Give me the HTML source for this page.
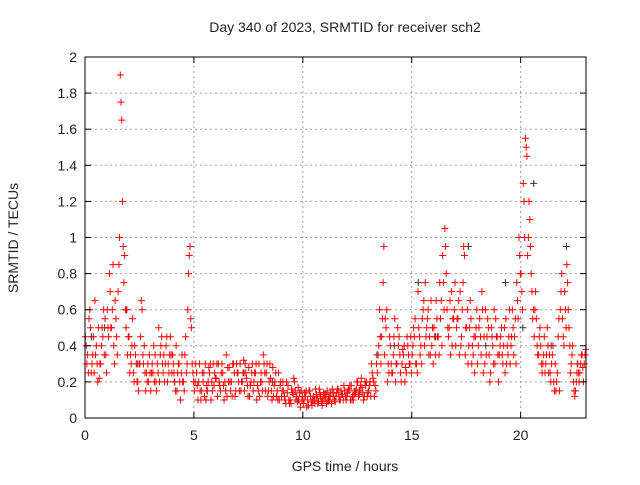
<!DOCTYPE html>
<html><head><meta charset="utf-8"><style>
body{margin:0;background:#fff}
svg text{font-family:"Liberation Sans",sans-serif;font-size:14px;fill:#222}
</style></head><body>
<svg id="chart" width="640" height="480" viewBox="0 0 640 480" xmlns="http://www.w3.org/2000/svg">
<rect width="640" height="480" fill="#fff"/>
<text x="345" y="32" text-anchor="middle">Day 340 of 2023, SRMTID for receiver sch2</text>
<text transform="translate(18,238) rotate(-90)" text-anchor="middle">SRMTID / TECUs</text>
<text x="345" y="471" text-anchor="middle">GPS time / hours</text>
<g id="grid"></g>
<g id="pts"></g>
<rect x="85" y="57" width="501" height="361" fill="none" stroke="#000" stroke-width="1"/>
<g id="ticks"></g>
</svg>
<script>
const xTicks=[0,5,10,15,20];
const yTicks=[0,0.2,0.4,0.6,0.8,1,1.2,1.4,1.6,1.8,2];
const yTickLabels=["0","0.2","0.4","0.6","0.8","1","1.2","1.4","1.6","1.8","2"];
const seriesA=[0.45,0.35,0.6,0.3,0.25,0.4,0.5,0.3,0.45,0.55,
0.6,0.8,0.5,0.4,0.55,0.7,1.9,1.2,0.9,0.6,
0.45,0.3,0.25,0.35,0.2,0.3,0.6,0.4,0.25,0.2,
0.15,0.25,0.35,0.3,0.2,0.45,0.35,0.4,0.3,0.45,
0.35,0.2,0.15,0.3,0.25,0.2,0.45,0.6,0.95,0.3,
0.15,0.25,0.2,0.1,0.2,0.3,0.15,0.25,0.2,0.18,
0.22,0.3,0.15,0.25,0.2,0.12,0.28,0.2,0.3,0.15,
0.25,0.3,0.2,0.15,0.22,0.28,0.2,0.15,0.25,0.18,
0.12,0.2,0.3,0.25,0.15,0.22,0.28,0.2,0.15,0.1,
0.12,0.15,0.08,0.18,0.1,0.14,0.2,0.12,0.1,0.15,
0.08,0.12,0.1,0.15,0.07,0.1,0.13,0.09,0.12,0.1,
0.11,0.15,0.1,0.08,0.14,0.12,0.16,0.1,0.13,0.15,
0.12,0.15,0.18,0.1,0.14,0.2,0.15,0.17,0.12,0.2,
0.15,0.12,0.22,0.18,0.25,0.6,0.45,0.95,0.5,0.3,
0.4,0.25,0.55,0.3,0.45,0.2,0.35,0.28,0.4,0.3,
0.35,0.45,0.3,0.5,0.4,0.6,0.75,0.55,0.45,0.4,
0.5,0.65,0.45,0.55,0.9,1.05,0.6,0.5,0.7,0.55,
0.4,0.55,0.7,0.6,0.9,0.5,0.4,0.55,0.35,0.45,
0.3,0.55,0.7,0.45,0.35,0.5,0.25,0.4,0.3,0.45,
0.35,0.5,0.4,0.55,0.35,0.3,0.6,0.45,0.75,1.0,
0.8,1.3,1.55,0.9,1.1,0.7,0.45,0.55,0.35,0.4,
0.3,0.25,0.5,0.35,0.3,0.2,0.15,0.45,0.6,0.55,
0.7,0.85,0.5,0.3,0.2,0.15,0.3,0.25,0.35,0.3];
const seriesB=[0.3,0.55,0.25,0.45,0.35,0.2,0.3,0.5,0.35,0.25,
0.45,0.5,0.85,0.65,0.35,1.0,1.65,0.75,0.5,0.45,
0.35,0.55,0.4,0.2,0.3,0.65,0.3,0.15,0.3,0.25,
0.3,0.2,0.15,0.5,0.4,0.25,0.3,0.2,0.35,0.25,
0.25,0.4,0.3,0.1,0.2,0.35,0.3,0.9,0.5,0.2,
0.3,0.1,0.15,0.25,0.12,0.18,0.28,0.1,0.3,0.22,
0.12,0.18,0.3,0.1,0.35,0.2,0.15,0.3,0.12,0.25,
0.15,0.2,0.32,0.25,0.12,0.18,0.3,0.25,0.1,0.3,
0.25,0.35,0.15,0.12,0.3,0.1,0.18,0.12,0.25,0.2,
0.2,0.1,0.14,0.08,0.16,0.22,0.1,0.17,0.06,0.12,
0.14,0.06,0.15,0.09,0.12,0.16,0.08,0.14,0.07,0.13,
0.08,0.1,0.14,0.12,0.09,0.16,0.1,0.13,0.18,0.1,
0.16,0.1,0.12,0.15,0.2,0.13,0.22,0.1,0.18,0.14,
0.2,0.25,0.12,0.3,0.4,0.3,0.75,0.55,0.2,0.45,
0.25,0.45,0.3,0.4,0.25,0.38,0.2,0.45,0.3,0.25,
0.5,0.3,0.7,0.35,0.55,0.4,0.5,0.35,0.65,0.3,
0.35,0.45,0.75,0.4,0.6,0.8,0.45,0.35,0.55,0.75,
0.55,0.35,0.45,0.95,0.5,0.3,0.65,0.4,0.25,0.6,
0.5,0.35,0.25,0.6,0.55,0.2,0.45,0.6,0.45,0.2,
0.45,0.3,0.25,0.4,0.6,0.45,0.35,0.3,0.55,0.8,
0.6,1.0,1.45,1.2,0.8,0.6,0.7,0.35,0.5,0.25,
0.45,0.35,0.25,0.2,0.4,0.3,0.25,0.15,0.8,0.4,
0.5,0.6,0.25,0.4,0.12,0.25,0.2,0.35,0.2,0.38];
const seriesC=[0.4,0.25,0.5,0.35,0.65,0.3,0.22,0.4,0.6,0.35,
0.5,0.7,0.6,0.3,0.45,0.85,1.75,0.95,0.6,0.35,
0.25,0.4,0.2,0.3,0.15,0.45,0.35,0.25,0.2,0.35,
0.25,0.4,0.2,0.25,0.35,0.3,0.2,0.45,0.25,0.35,
0.3,0.15,0.25,0.2,0.35,0.15,0.25,0.8,0.55,0.25,
0.2,0.18,0.3,0.15,0.25,0.1,0.2,0.3,0.15,0.25,
0.3,0.2,0.25,0.18,0.15,0.28,0.2,0.12,0.25,0.3,
0.2,0.15,0.25,0.3,0.18,0.12,0.25,0.2,0.3,0.15,
0.2,0.15,0.25,0.3,0.2,0.15,0.12,0.25,0.1,0.18,
0.15,0.12,0.2,0.1,0.08,0.13,0.15,0.09,0.14,0.1,
0.1,0.15,0.07,0.12,0.1,0.08,0.11,0.16,0.09,0.14,
0.13,0.09,0.12,0.16,0.1,0.14,0.12,0.15,0.1,0.12,
0.14,0.18,0.1,0.13,0.16,0.12,0.18,0.14,0.2,0.12,
0.18,0.3,0.2,0.15,0.35,0.45,0.55,0.35,0.6,0.25,
0.3,0.35,0.2,0.5,0.35,0.3,0.4,0.25,0.35,0.45,
0.4,0.55,0.25,0.45,0.3,0.65,0.45,0.6,0.35,0.5,
0.45,0.55,0.35,0.65,0.75,0.95,0.5,0.65,0.4,0.6,
0.5,0.65,0.4,0.75,0.35,0.6,0.5,0.3,0.45,0.5,
0.4,0.45,0.6,0.3,0.45,0.35,0.5,0.3,0.55,0.35,
0.4,0.35,0.5,0.3,0.45,0.4,0.5,0.55,0.65,0.9,
0.7,1.2,1.5,1.0,0.95,0.55,0.6,0.4,0.45,0.3,
0.35,0.3,0.4,0.25,0.35,0.15,0.2,0.55,0.7,0.45,
0.6,0.75,0.4,0.35,0.15,0.2,0.25,0.3,0.28,0.35];
const darkX=[0.3,0.9,1.9,2.4,4.1,5.6,7.3,8.6,9.8,11.2,12.6,13.4,14.2,15.3,16.1,17.6,18.4,19.3,20.1,20.6,21.4,22.1,22.6];
const darkY=[0.45,0.5,0.6,0.3,0.2,0.15,0.25,0.2,0.1,0.12,0.15,0.35,0.4,0.75,0.45,0.95,0.4,0.75,0.5,1.3,0.4,0.95,0.3];
const hourStep=0.1;
const NS="http://www.w3.org/2000/svg";
const X0=85,X1=586,Y0=418,Y1=57,XMAX=23,YMAX=2;
function sx(v){return X0+(X1-X0)*v/XMAX;}
function sy(v){return Y0-(Y0-Y1)*v/YMAX;}
const grid=document.getElementById('grid'),ticks=document.getElementById('ticks'),pts=document.getElementById('pts');
function mk(tag,attrs,parent){const e=document.createElementNS(NS,tag);for(const k in attrs)e.setAttribute(k,attrs[k]);parent.appendChild(e);return e;}
yTicks.forEach((v,i)=>{
 const y=sy(v);
 if(i>0&&i<yTicks.length-1){const g=mk('line',{x1:X0,x2:X1,y1:y,y2:y,stroke:'#a0a0a0','stroke-dasharray':'2,3','stroke-width':1},grid);
 
 }
 mk('line',{x1:X0,x2:X0+6,y1:y,y2:y,stroke:'#000'},ticks);
 mk('line',{x1:X1,x2:X1-6,y1:y,y2:y,stroke:'#000'},ticks);
 const t=mk('text',{x:X0-8,y:y+5,'text-anchor':'end'},ticks);t.textContent=yTickLabels[i];
 
 
});
xTicks.forEach((v,i)=>{
 const x=sx(v);
 if(i>0){const g=mk('line',{x1:x,x2:x,y1:Y0,y2:Y1,stroke:'#a0a0a0','stroke-dasharray':'2,3'},grid);
 
 }
 mk('line',{x1:x,x2:x,y1:Y0,y2:Y0-6,stroke:'#000'},ticks);
 mk('line',{x1:x,x2:x,y1:Y1,y2:Y1+6,stroke:'#000'},ticks);
 const t=mk('text',{x:x,y:Y0+22,'text-anchor':'middle'},ticks);t.textContent=String(v);
 
 
});
function plus(x,y,c,name){
 const p=mk('path',{d:`M${x-3.5},${y}h7M${x},${y-3.5}v7`,stroke:c,'stroke-width':1,fill:'none'},pts);
 
 
}
darkX.forEach((t,i)=>plus(sx(t),sy(darkY[i]),'#333','dark-point'));
seriesA.forEach((v,i)=>plus(sx(i*hourStep+0.02),sy(v),'#f00','red-point'));
seriesC.forEach((v,i)=>plus(sx(i*hourStep+0.055),sy(v),'#f00','red-point'));
seriesB.forEach((v,i)=>plus(sx(i*hourStep+0.085),sy(v),'#f00','red-point'));
</script>
</body></html>
